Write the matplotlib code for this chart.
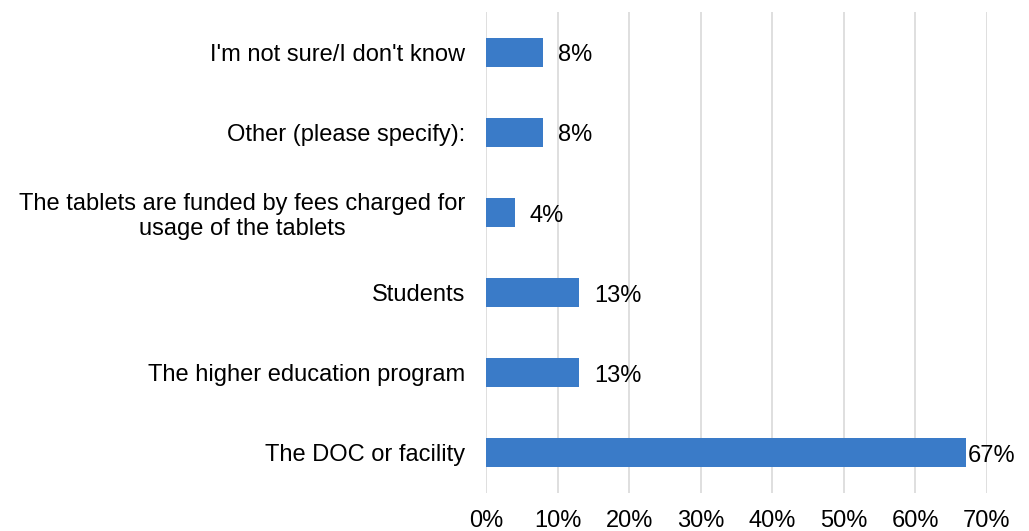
import matplotlib.pyplot as plt
from matplotlib.ticker import PercentFormatter

plt.rcParams['font.family'] = ['Liberation Sans', 'DejaVu Sans']

# funding sources, bottom to top
labels = [
    'The DOC or facility',
    'The higher education program',
    'Students',
    'The tablets are funded by fees charged for\nusage of the tablets',
    'Other (please specify):',
    "I'm not sure/I don't know",
]
shares = [0.67, 0.13, 0.13, 0.04, 0.08, 0.08]

fig = plt.figure(figsize=(10.29, 5.31), dpi=100)
ax = fig.add_axes([486 / 1029, 38 / 531, 501 / 1029, 481 / 531])

ypos = range(len(labels))
ax.barh(ypos, shares, height=0.36, color='#3A7BC8', zorder=3)
for y, v in zip(ypos, shares):
    # keep the label inside the plot when the bar is long
    x = min(v + 0.021, 0.673)
    ax.text(x, y - 0.04, '%d%%' % round(v * 100), va='center', ha='left',
            fontsize=17, color='#000000')

ax.set_xlim(0, 0.7)
ax.set_ylim(-0.5, 5.5)
ax.set_xticks([i / 10 for i in range(8)])
ax.xaxis.set_major_formatter(PercentFormatter(1.0, decimals=0))
ax.set_yticks(list(ypos))
ax.set_yticklabels(labels, fontsize=17)
for lab in ax.get_yticklabels():
    lab.set_horizontalalignment('right')
    lab.set_multialignment('center')
ax.tick_params(axis='x', labelsize=17, length=0, pad=12)
ax.tick_params(axis='y', length=0, pad=15)
ax.grid(axis='x', color='#D9D9D9', linewidth=1.2, zorder=0)
for s in ax.spines.values():
    s.set_visible(False)

fig.savefig('out.png', dpi=100)
